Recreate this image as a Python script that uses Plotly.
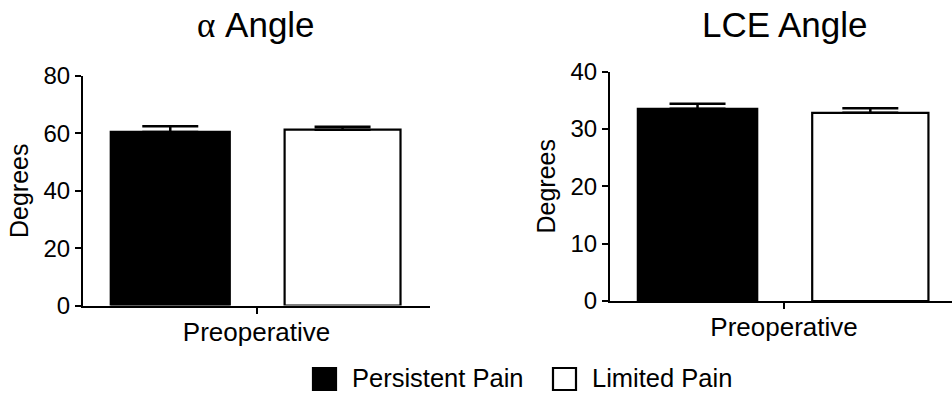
import plotly.graph_objects as go

# ---- data ----
categories = ["Preoperative"]
groups = ["Persistent Pain", "Limited Pain"]
panel_titles = ["<span style='font-family:Liberation Serif'>α</span> Angle", "LCE Angle"]
alpha_means = [60.5, 61.3]
alpha_errs = [2.0, 1.0]
lce_means = [33.5, 32.8]
lce_errs = [0.9, 0.8]
alpha_ticks = [0, 20, 40, 60, 80]
lce_ticks = [0, 10, 20, 30, 40]

FONT = "Liberation Sans, Arial, sans-serif"
fills = ["black", "white"]
offsets = [-0.42, 0.081]
widths = [0.343, 0.334]

fig = go.Figure()
panels = [(alpha_means, alpha_errs, "x", "y"), (lce_means, lce_errs, "x2", "y2")]
for means, errs, xa, ya in panels:
    for i, g in enumerate(groups):
        fig.add_trace(go.Bar(
            x=categories, y=[means[i]], name=g, showlegend=False,
            xaxis=xa, yaxis=ya,
            offset=offsets[i], width=widths[i],
            marker=dict(color=fills[i], line=dict(color="black", width=2.2)),
            error_y=dict(type="data", array=[errs[i]], arrayminus=[0], symmetric=False,
                         color="black", thickness=2.5, width=28),
        ))

W, H = 952, 393
def px(x):
    return x / W
def py(y):
    return 1 - y / H

axis_common = dict(showline=True, linecolor="black", linewidth=2, ticks="outside",
                   tickcolor="black", tickwidth=2, ticklen=6, showgrid=False, zeroline=False,
                   automargin=False,
                   tickfont=dict(family=FONT, size=24, color="black"))
xfont = dict(family=FONT, size=26, color="black")
ytitle_font = dict(family=FONT, size=25, color="black")

fig.update_layout(
    width=W, height=H, margin=dict(l=0, r=0, t=0, b=0),
    paper_bgcolor="white", plot_bgcolor="white",
    barmode="group", showlegend=False,
    xaxis=dict(domain=[px(83), px(430)], range=[-0.5, 0.5], anchor="y", type="category",
               ticklabelstandoff=-4, **{**axis_common, "tickfont": xfont}),
    yaxis=dict(domain=[py(305.5), py(76)], range=[0, 80], anchor="x", tickvals=alpha_ticks,
               title=dict(text="Degrees", font=ytitle_font, standoff=8),
               **axis_common),
    xaxis2=dict(domain=[px(610), 1.0], range=[-0.5, 0.4827], anchor="y2", type="category",
                ticklabelstandoff=-4, **{**axis_common, "tickfont": xfont}),
    yaxis2=dict(domain=[py(301), py(71.5)], range=[0, 40], anchor="x2", tickvals=lce_ticks,
                title=dict(text="Degrees", font=ytitle_font, standoff=8),
                **axis_common),
)

# panel titles
for t, cx in zip(panel_titles, [256, 784]):
    fig.add_annotation(text=t, x=px(cx), y=py(25), xref="paper", yref="paper",
                       xanchor="center", yanchor="middle", showarrow=False,
                       font=dict(family=FONT, size=35, color="black"))

# legend (drawn manually to match large square swatches)
leg_sq_x = [313, 553]
leg_txt_x = [350, 590]
for i, g in enumerate(groups):
    fig.add_shape(type="rect", xref="paper", yref="paper",
                  x0=px(leg_sq_x[i]), x1=px(leg_sq_x[i] + 23), y0=py(390), y1=py(368),
                  fillcolor=fills[i], line=dict(color="black", width=2.2))
    fig.add_annotation(text=g, x=px(leg_txt_x[i]), y=py(378), xref="paper", yref="paper",
                       xanchor="left", yanchor="middle", showarrow=False,
                       font=dict(family=FONT, size=25.5, color="black"))

fig.write_html("out.html", config={"displayModeBar": False},
               post_script="document.body.style.margin='0';document.body.style.overflow='hidden';")
